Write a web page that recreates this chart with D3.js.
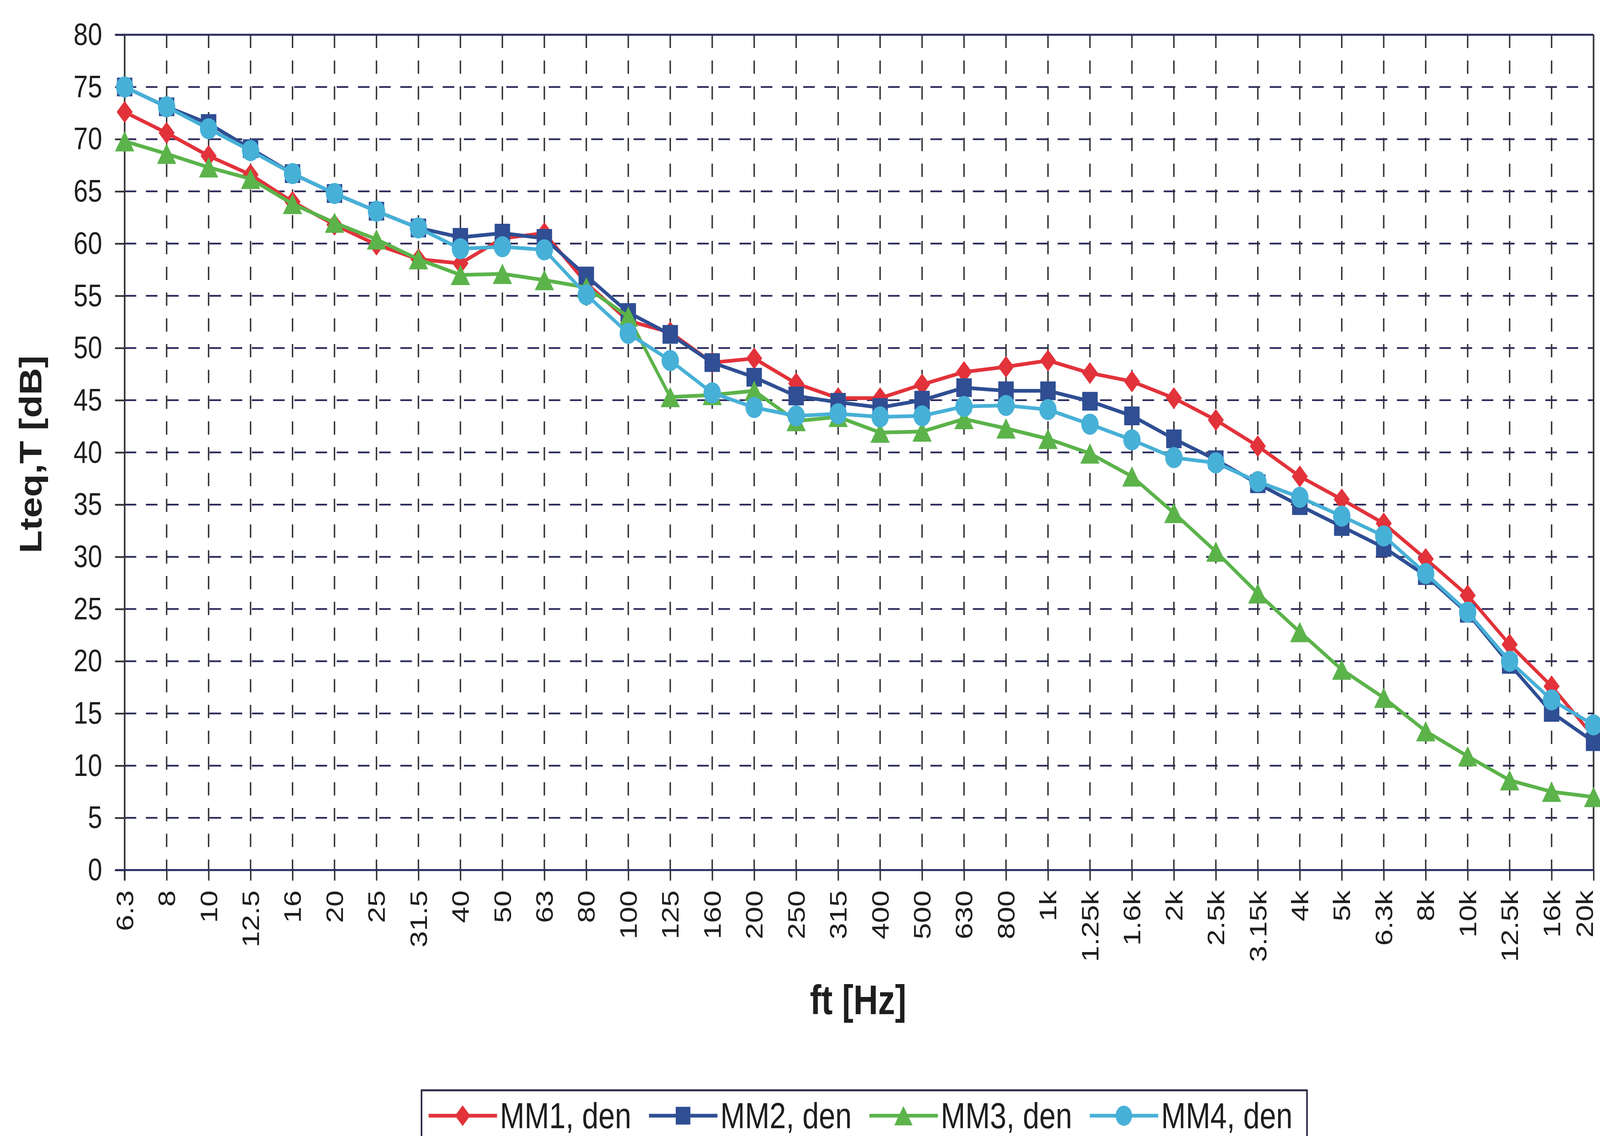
<!DOCTYPE html>
<html>
<head>
<meta charset="utf-8">
<script src="https://cdn.jsdelivr.net/npm/d3@7/dist/d3.min.js"></script>
<style>
html,body{margin:0;padding:0;background:#ffffff;width:100%;height:100%;overflow:hidden;}
svg{display:block;width:100vw;height:100vh;}
</style>
</head>
<body>
<script>
// ---------- DATA ----------
const categories = ["6.3","8","10","12.5","16","20","25","31.5","40","50","63","80","100","125","160","200","250","315","400","500","630","800","1k","1.25k","1.6k","2k","2.5k","3.15k","4k","5k","6.3k","8k","10k","12.5k","16k","20k"];

const mm1 = [72.6,70.6,68.4,66.6,64.0,61.8,59.9,58.5,58.1,60.5,61.0,56.2,52.6,51.5,48.6,49.0,46.6,45.2,45.2,46.5,47.7,48.2,48.8,47.6,46.8,45.2,43.1,40.6,37.7,35.5,33.2,29.8,26.3,21.6,17.6,12.8];
const mm2 = [75.0,73.1,71.5,69.1,66.7,64.8,63.1,61.5,60.6,61.0,60.5,56.9,53.4,51.3,48.6,47.2,45.4,44.8,44.3,45.0,46.2,45.9,45.9,44.9,43.5,41.3,39.3,37.0,34.9,32.9,30.9,28.2,24.6,19.7,15.1,12.3];
const mm3 = [69.8,68.6,67.3,66.2,63.8,62.0,60.4,58.5,57.0,57.1,56.5,55.8,53.0,45.3,45.5,45.9,43.0,43.4,41.9,42.0,43.2,42.3,41.3,39.9,37.7,34.2,30.5,26.5,22.8,19.2,16.5,13.3,10.9,8.6,7.5,7.0];
const mm4 = [75.0,73.1,71.0,68.9,66.7,64.8,63.1,61.5,59.5,59.7,59.4,55.1,51.4,48.8,45.7,44.3,43.5,43.7,43.4,43.5,44.4,44.5,44.1,42.7,41.2,39.5,39.0,37.2,35.7,33.9,32.0,28.4,24.7,20.0,16.3,13.9];

const seriesNames = ["MM1, den","MM2, den","MM3, den","MM4, den"];
const yTicks = [0,5,10,15,20,25,30,35,40,45,50,55,60,65,70,75,80];
const xTitle = "ft [Hz]";
const yTitle = "Lteq,T [dB]";

// ---------- STYLE ----------
const W = 4980, H = 2909;
const colors = ["#e2323a","#2f4e93","#5bb34a","#47b0d7"];
const shapes = ["diamond","square","triangle","circle"];
const FONT = "'Liberation Sans', Arial, Helvetica, sans-serif";
const plot = {left: 388, right: 4960, top: 89, bottom: 2228};

const svg = d3.select("body").append("svg")
  .attr("viewBox", `0 0 ${W} ${H}`)
  .attr("preserveAspectRatio", "none");
svg.append("rect").attr("width", W).attr("height", H).attr("fill", "#fff");

const x = d3.scalePoint().domain(categories).range([plot.left, plot.right]);
const y = d3.scaleLinear().domain([0, 80]).range([plot.bottom, plot.top]);

// horizontal grid (dashed)
svg.append("g").selectAll("line")
  .data(yTicks.filter(v => v > 0 && v < 80))
  .join("line")
  .attr("x1", plot.left).attr("x2", plot.right)
  .attr("y1", d => y(d)).attr("y2", d => y(d))
  .attr("stroke", "#2c2c5c").attr("stroke-width", 4.5)
  .attr("stroke-dasharray", "36,30");

// vertical grid (dashed)
svg.append("g").selectAll("line")
  .data(categories.slice(1, categories.length - 1))
  .join("line")
  .attr("x1", d => x(d)).attr("x2", d => x(d))
  .attr("y1", plot.top).attr("y2", plot.bottom)
  .attr("stroke", "#333338").attr("stroke-width", 4.5)
  .attr("stroke-dasharray", "34,32");

// y axis
const yAxis = d3.axisLeft(y).tickValues(yTicks).tickSize(30).tickPadding(40)
  .tickFormat(d3.format("d"));
const gy = svg.append("g").attr("transform", `translate(${plot.left},0)`).call(yAxis);
gy.select(".domain").remove();
gy.selectAll(".tick line").attr("stroke", "#333").attr("stroke-width", 4.5);
gy.selectAll(".tick text")
  .attr("font-family", FONT).attr("font-size", 80).attr("fill", "#1e1e1e");

// x axis
const xAxis = d3.axisBottom(x).tickSize(27).tickPadding(0);
const gx = svg.append("g").attr("transform", `translate(0,${plot.bottom})`).call(xAxis);
gx.select(".domain").remove();
gx.selectAll(".tick line").attr("stroke", "#333").attr("stroke-width", 4.5);
gx.selectAll(".tick text")
  .attr("font-family", FONT).attr("font-size", 75).attr("fill", "#1e1e1e")
  .attr("text-anchor", "end")
  .attr("dy", null)
  .attr("y", 0)
  .attr("dominant-baseline", "central")
  .attr("transform", (d, i) => `translate(${i === categories.length - 1 ? -28 : 0},52) rotate(-90)`);

// plot frame
svg.append("line").attr("x1", plot.left - 30).attr("x2", plot.right)
  .attr("y1", plot.top).attr("y2", plot.top)
  .attr("stroke", "#2a2a60").attr("stroke-width", 5);
svg.append("line").attr("x1", plot.right).attr("x2", plot.right)
  .attr("y1", plot.top).attr("y2", plot.bottom)
  .attr("stroke", "#333").attr("stroke-width", 5);
svg.append("line").attr("x1", plot.left).attr("x2", plot.left)
  .attr("y1", plot.top).attr("y2", plot.bottom + 27)
  .attr("stroke", "#333").attr("stroke-width", 5);
svg.append("line").attr("x1", plot.left - 30).attr("x2", plot.right)
  .attr("y1", plot.bottom).attr("y2", plot.bottom)
  .attr("stroke", "#2a2a60").attr("stroke-width", 5);

// marker path generator (relative to 0,0)
function markerPath(shape, s) {
  const p = d3.path();
  if (shape === "diamond") {
    const hw = 25*s, hh = 28*s;
    p.moveTo(0,-hh); p.lineTo(hw,0); p.lineTo(0,hh); p.lineTo(-hw,0); p.closePath();
  } else if (shape === "square") {
    const h = 24*s;
    p.rect(-h,-h,2*h,2*h);
  } else if (shape === "triangle") {
    const hw = 30*s, hh = 26*s;
    p.moveTo(0,-hh); p.lineTo(hw,hh); p.lineTo(-hw,hh); p.closePath();
  } else {
    p.arc(0,0,27*s,0,2*Math.PI); p.closePath();
  }
  return p.toString();
}

const seriesData = [mm1, mm2, mm3, mm4];
const line = d3.line().x((d,i) => x(categories[i])).y(d => y(d));

seriesData.forEach((vals, k) => {
  const g = svg.append("g");
  g.append("path").datum(vals)
    .attr("d", line)
    .attr("fill", "none").attr("stroke", colors[k]).attr("stroke-width", 9.5)
    .attr("stroke-linejoin", "round");
  g.selectAll("path.m").data(vals).join("path").attr("class","m")
    .attr("d", markerPath(shapes[k], 1))
    .attr("transform", (d,i) => `translate(${x(categories[i])},${y(d)})`)
    .attr("fill", colors[k]);
});

// axis titles
svg.append("text")
  .attr("transform", `translate(95,${(plot.top+plot.bottom)/2 + 5}) rotate(-90)`)
  .attr("text-anchor", "middle").attr("dominant-baseline", "central")
  .attr("font-family", FONT).attr("font-weight", "bold").attr("font-size", 96)
  .attr("fill", "#1e1e1e").text(yTitle);

svg.append("text")
  .attr("x", 2671).attr("y", 2597)
  .attr("text-anchor", "middle")
  .attr("font-family", FONT).attr("font-weight", "bold").attr("font-size", 106)
  .attr("fill", "#1e1e1e").text(xTitle);

// legend
const legend = svg.append("g");
legend.append("rect")
  .attr("x", 1312).attr("y", 2792).attr("width", 2756).attr("height", 200)
  .attr("fill", "none").attr("stroke", "#2a2a45").attr("stroke-width", 5);
const legX = d3.scalePoint().domain(seriesNames).range([1334, 1334 + 3*686]);
seriesNames.forEach((name, k) => {
  const x0 = legX(name);
  const ly = 2857;
  legend.append("line").attr("x1", x0).attr("x2", x0 + 213)
    .attr("y1", ly).attr("y2", ly)
    .attr("stroke", colors[k]).attr("stroke-width", 9.5);
  legend.append("path").attr("d", markerPath(shapes[k], 0.95))
    .attr("transform", `translate(${x0 + 106},${ly})`)
    .attr("fill", colors[k]);
  legend.append("text").attr("x", x0 + 222).attr("y", 2889)
    .attr("font-family", FONT).attr("font-size", 92).attr("fill", "#1e1e1e")
    .text(name);
});
</script>
</body>
</html>
